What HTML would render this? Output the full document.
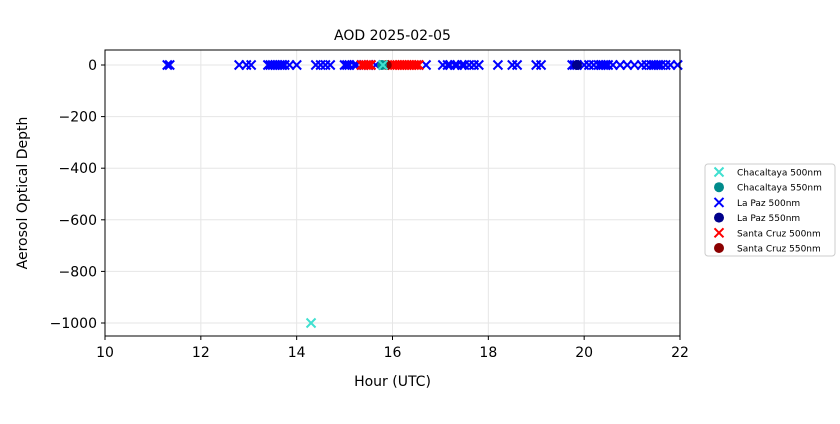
<!DOCTYPE html>
<html><head><meta charset="utf-8"><style>
body{margin:0;background:#fff;width:840px;height:420px;overflow:hidden;font-family:"DejaVu Sans","Liberation Sans",sans-serif}
</style></head><body>
<svg id="chart" width="840" height="420" xmlns="http://www.w3.org/2000/svg" font-family="DejaVu Sans, Liberation Sans, sans-serif">
<text x="392.5" y="40" font-size="14" text-anchor="middle">AOD 2025-02-05</text>
<text x="392.5" y="386" font-size="14" text-anchor="middle">Hour (UTC)</text>
<text transform="translate(27,193) rotate(-90)" font-size="14" text-anchor="middle">Aerosol Optical Depth</text>
<g id="grid"></g><g id="ticks"></g><g id="marks"></g>
<rect x="105" y="50" width="575" height="286" fill="none" stroke="#000" stroke-width="1"/>
<g>
<rect x="705" y="164" width="130" height="92" rx="3" fill="#fff" stroke="#ccc"/>
<g id="legend-items"></g>
</g>
</svg>
<script>
const xTicks=[10,12,14,16,18,20,22];
const yTicks=[0,-200,-400,-600,-800,-1000];
const chacaltaya500X=[14.3,15.8];
const chacaltaya500Y=[-1000,0];
const chacaltaya550X=[15.78];
const chacaltaya550Y=[0];
const lapaz500X=[11.3,11.35,12.8,12.95,13.05,13.4,13.45,13.5,13.55,13.6,13.65,13.7,13.75,13.85,14.0,14.4,14.5,14.6,14.7,15.0,15.05,15.1,15.2,15.25,15.5,15.55,15.65,16.7,17.05,17.15,17.2,17.3,17.35,17.45,17.5,17.6,17.7,17.8,18.2,18.5,18.6,19.0,19.1,19.75,19.8,19.85,20.0,20.1,20.2,20.3,20.35,20.4,20.45,20.5,20.6,20.75,20.9,21.05,21.2,21.3,21.4,21.45,21.5,21.55,21.6,21.7,21.8,21.95];
const lapaz500Y=lapaz500X.map(()=>0);
const lapaz550X=[19.85];
const lapaz550Y=[0];
const santa500X=[15.35,15.4,15.45,15.5,15.55,16.0,16.05,16.1,16.15,16.2,16.25,16.3,16.35,16.4,16.45,16.5,16.55];
const santa500Y=santa500X.map(()=>0);
const santa550X=[15.88];
const santa550Y=[0];
const X=h=>105+(h-10)*575/12;
const Y=v=>65+(0-v)*258/1000;
const ns="http://www.w3.org/2000/svg";
function mk(t,a,p){const e=document.createElementNS(ns,t);for(const k in a)e.setAttribute(k,a[k]);p.appendChild(e);return e;}
const grid=document.getElementById('grid'),ticks=document.getElementById('ticks'),marks=document.getElementById('marks');
xTicks.forEach(t=>{const x=X(t);
 const g=mk('line',{x1:x,x2:x,y1:50,y2:336,stroke:'#e6e6e6'},grid);
 
 
 mk('line',{x1:x,x2:x,y1:336,y2:340,stroke:'#000'},ticks);
 const l=mk('text',{x:x,y:357,'font-size':14,'text-anchor':'middle'},ticks);l.textContent=t;
 
 });
yTicks.forEach(t=>{const y=Y(t);
 const g=mk('line',{x1:105,x2:680,y1:y,y2:y,stroke:'#e6e6e6'},grid);
 
 
 mk('line',{x1:101,x2:105,y1:y,y2:y,stroke:'#000'},ticks);
 const l=mk('text',{x:97,y:y+5,'font-size':14,'text-anchor':'end'},ticks);l.textContent=(t<0?'\u2212'+(-t):t);
 
 });
function cross(x,y,c,p,s){const g=mk('path',{d:`M${x-s},${y-s}L${x+s},${y+s}M${x-s},${y+s}L${x+s},${y-s}`,stroke:c,'stroke-width':2,fill:'none'},p);return g;}
function series(xs,ys,c,type,name){xs.forEach((h,i)=>{let e;
 if(type==='x')e=cross(X(h),Y(ys[i]),c,marks,4.5);else e=mk('circle',{cx:X(h),cy:Y(ys[i]),r:5,fill:c},marks);
 
 });}
series(lapaz500X,lapaz500Y,'#0000ff','x','lapaz-500-point');
series(santa500X,santa500Y,'#ff0000','x','santacruz-500-point');
series(santa550X,santa550Y,'#8b0000','o','santacruz-550-point');
series(lapaz550X,lapaz550Y,'#00008b','o','lapaz-550-point');
series(chacaltaya550X,chacaltaya550Y,'#008b8b','o','chacaltaya-550-point');
series(chacaltaya500X,chacaltaya500Y,'#40e0d0','x','chacaltaya-500-point');
const legLabels=['Chacaltaya 500nm','Chacaltaya 550nm','La Paz 500nm','La Paz 550nm','Santa Cruz 500nm','Santa Cruz 550nm'];
const legColors=['#40e0d0','#008b8b','#0000ff','#00008b','#ff0000','#8b0000'];
const li=document.getElementById('legend-items');
legLabels.forEach((t,i)=>{const y=172+i*15.2;
 let m; if(i%2===0)m=cross(719,y,legColors[i],li,4.5);else m=mk('circle',{cx:719,cy:y,r:5,fill:legColors[i]},li);
 
 
 const tx=mk('text',{x:737,y:y+3.5,'font-size':9},li);tx.textContent=t;
 
 });
</script>
</body></html>
